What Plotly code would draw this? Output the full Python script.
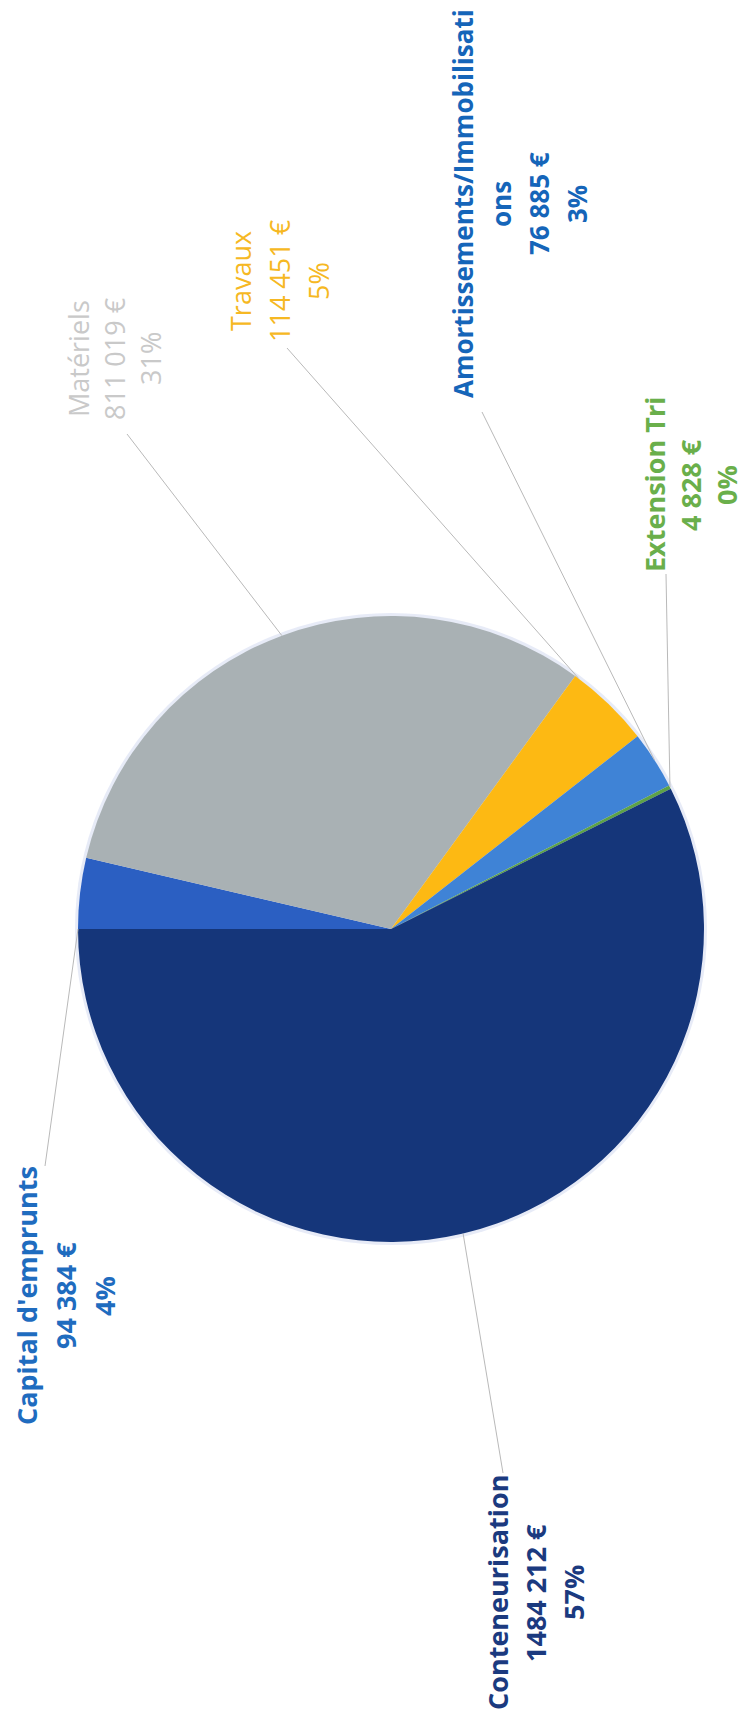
import math
import plotly.graph_objects as go

# ---- data -------------------------------------------------------------
categories = [
    "Capital d'emprunts",
    "Matériels",
    "Travaux",
    "Amortissements/Immobilisations",
    "Extension Tri",
    "Conteneurisation",
]
amounts = [94384, 811019, 114451, 76885, 4828, 1484212]
pct_labels = [4, 31, 5, 3, 0, 57]

# ---- styling ----------------------------------------------------------
slice_colors = ["#2b5fc2", "#a9b1b4", "#fdb913", "#3f83d6", "#5da247", "#15367a"]
label_colors = ["#1f6cbf", "#c9c9c9", "#f6b823", "#1565b9", "#6aaf4b", "#1b3a7f"]
label_bold = [True, False, False, True, True, True]
label_size = [27, 27, 27, 26, 27, 27]

W, H = 744, 1718
CX, CY, R = 391, 929, 313          # pie centre / radius in page pixels

# label block layout (page pixels): x of first line, y centre, line step
label_x0 = [26, 78, 240, 463, 655, 497]
label_yc = [1296, 359, 281, 204, 485, 1593]
label_step = [39, 36, 39, 38, 36, 38]
wrap_at = [None, None, None, 27, None, None]
# where the leader line meets the slice (0 = slice start, 0.5 = mid-arc)
anchor_pos = [0.0, 0.5, 0.05, 0.5, 0.5, 0.5]
# leader line start point near the label (page pixels)
leader_from = [(45, 1166), (127, 434), (287, 348), (482, 412), (666, 574), (503, 1473)]


def px(x):
    return x / W


def py(y):
    return 1 - y / H


def fmt_amount(v):
    if v >= 1000:
        return f"{v // 1000} {v % 1000:03d} €"
    return f"{v} €"


fig = go.Figure()

fig.add_trace(go.Pie(
    values=amounts,
    labels=categories,
    sort=False,
    direction="clockwise",
    rotation=-90,
    textinfo="none",
    hoverinfo="skip",
    marker=dict(colors=slice_colors, line=dict(width=0)),
    domain=dict(x=[px(CX - R), px(CX + R)], y=[py(CY + R), py(CY - R)]),
    showlegend=False,
))

# soft rim behind the pie
fig.add_shape(type="circle", xref="paper", yref="paper", layer="below",
              x0=px(CX - R - 3), x1=px(CX + R + 3),
              y0=py(CY + R + 3), y1=py(CY - R - 3),
              fillcolor="rgba(175,190,230,0.3)", line=dict(width=0))

total = sum(amounts)
cum = 0.0
annotations = []
for i, (name, val) in enumerate(zip(categories, amounts)):
    frac = val / total
    f = cum + anchor_pos[i] * frac
    cum += frac
    theta = 2 * math.pi * f
    ex = CX - R * math.cos(theta)
    ey = CY - R * math.sin(theta)
    sx, sy = leader_from[i]
    fig.add_shape(type="line", xref="paper", yref="paper",
                  x0=px(sx), y0=py(sy), x1=px(ex), y1=py(ey),
                  line=dict(color="#b9b9b9", width=1))

    if wrap_at[i]:
        name_lines = [name[:wrap_at[i]], name[wrap_at[i]:]]
    else:
        name_lines = [name]
    lines = name_lines + [fmt_amount(val), f"{pct_labels[i]}%"]
    for k, txt in enumerate(lines):
        annotations.append(dict(
            x=px(label_x0[i] + k * label_step[i]), y=py(label_yc[i]),
            xref="paper", yref="paper", text=txt, showarrow=False,
            textangle=-90, xanchor="center", yanchor="middle",
            font=dict(family="Open Sans", size=label_size[i],
                      color=label_colors[i],
                      weight="bold" if label_bold[i] else "normal"),
        ))

fig.update_layout(
    width=W, height=H,
    margin=dict(l=0, r=0, t=0, b=0),
    paper_bgcolor="white", plot_bgcolor="white",
    annotations=annotations,
)

fig.write_html("out.html")
